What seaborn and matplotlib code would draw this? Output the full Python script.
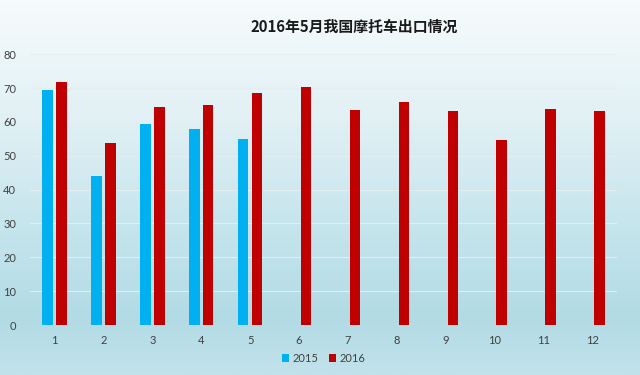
import matplotlib
matplotlib.use("Agg")
import matplotlib.pyplot as plt
from matplotlib.colors import LinearSegmentedColormap
import numpy as np
import pandas as pd
import seaborn as sns

months = [1, 2, 3, 4, 5, 6, 7, 8, 9, 10, 11, 12]
exports_2015 = [69.4, 44.0, 59.3, 57.9, 55.0]
exports_2016 = [71.7, 53.7, 64.3, 65.0, 68.5, 70.4, 63.5, 65.8, 63.3, 54.7, 63.7, 63.3]
years = ["2015", "2016"]
colors = ["#00b0f0", "#c00000"]

rows = []
for m, v in zip(months, exports_2015):
    rows.append({"month": m, "year": "2015", "value": v})
for m, v in zip(months, exports_2016):
    rows.append({"month": m, "year": "2016", "value": v})
df = pd.DataFrame(rows)

sns.set_theme(style="white")
plt.rcParams["font.family"] = ["Lato", "Noto Sans CJK SC", "DejaVu Sans"]

fig = plt.figure(figsize=(6.4, 3.75), dpi=100)

# background gradient
bg = fig.add_axes([0, 0, 1, 1], zorder=-10)
bg_cmap = LinearSegmentedColormap.from_list(
    "bg", [(0.0, "#f6fbfc"), (0.3, "#e2f1f5"), (0.6, "#c6e5ed"), (0.85, "#b2dbe5"), (1.0, "#c2e2ea")]
)
bg.imshow(np.linspace(0, 1, 256).reshape(-1, 1), aspect="auto", cmap=bg_cmap, extent=[0, 1, 0, 1])
bg.axis("off")

ax = fig.add_axes([0.047, 0.1333, 0.917, 0.722])
ax.set_facecolor("none")
sns.barplot(data=df, x="month", y="value", hue="year", hue_order=years,
            order=months, palette=colors, width=0.57, gap=0.25,
            linewidth=0, saturation=1, ax=ax, legend=True, err_kws={"linewidth": 0})

ax.set_ylim(0, 80)
ax.set_yticks(range(0, 81, 10))
ax.yaxis.grid(True, color="#e4eef1", linewidth=0.8)
ax.set_axisbelow(True)
for s in ax.spines.values():
    s.set_visible(False)
ax.tick_params(axis="both", length=0, labelsize=8, labelcolor="#404040")
ax.tick_params(axis="y", pad=10)
ax.tick_params(axis="x", pad=7)
ax.set_xlabel("")
ax.set_ylabel("")

ax.legend(loc="center", bbox_to_anchor=(0.5, -0.122), ncol=2, frameon=False,
          fontsize=8, handlelength=0.7, handleheight=0.7, handletextpad=0.3,
          columnspacing=0.9, labelcolor="#404040")

fig.text(0.553, 0.928, "2016年5月我国摩托车出口情况", ha="center", va="center",
         fontsize=10.7, fontweight="bold", color="#1a1a1a",
         family=["Noto Sans CJK SC", "DejaVu Sans"])

fig.savefig("out.png", dpi=100)
